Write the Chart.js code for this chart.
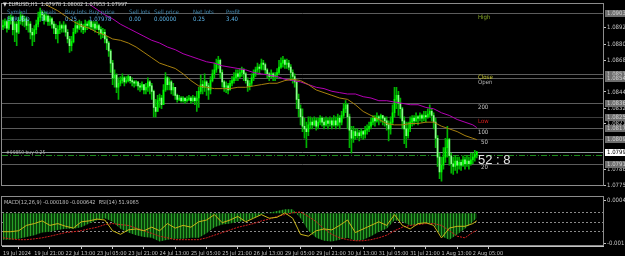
<!DOCTYPE html>
<html>
<head>
<meta charset="utf-8">
<title>EURUSD,H1</title>
<script src="https://cdn.jsdelivr.net/npm/chart.js@4.4.1/dist/chart.umd.min.js"></script>
<style>
  html, body { margin: 0; padding: 0; background: #000; }
  #cadre { position: relative; width: 625px; height: 256px; overflow: hidden; background: #000; }
  #prix { position: absolute; left: 0; top: 0; }
  #osc { position: absolute; left: 0; top: 190px; }
</style>
</head>
<body>
<div id="cadre">
  <canvas id="prix" width="625" height="190"></canvas>
  <canvas id="osc" width="625" height="66"></canvas>
</div>
<script>
/* Axe du temps : une étiquette toutes les 16 bougies H1 */
var timeLabels = ['19 Jul 2024', '19 Jul 21:00', '22 Jul 13:00', '23 Jul 05:00', '23 Jul 21:00', '24 Jul 13:00',
  '25 Jul 05:00', '25 Jul 21:00', '26 Jul 13:00', '29 Jul 05:00', '29 Jul 21:00', '30 Jul 13:00',
  '31 Jul 05:00', '31 Jul 21:00', '1 Aug 13:00', '2 Aug 05:00'];
var labelBars = [0, 16, 32, 48, 64, 80, 96, 112, 128, 144, 160, 176, 192, 208, 224, 240];
var totalSlots = 307; // bougies + marge à droite

/* Bougies (clôture, plus haut, plus bas) */
var firstOpen = 1.0893;
var closes = [
  1.0894,1.0897,1.0892,1.0898,1.0900,1.0891,1.0895,1.0889,1.0898,1.0901,
  1.0897,1.0899,1.0894,1.0895,1.0889,1.0887,1.0891,1.0895,1.0900,1.0904,
  1.0902,1.0898,1.0901,1.0897,1.0899,1.0895,1.0892,1.0888,1.0891,1.0894,
  1.0892,1.0894,1.0889,1.0884,1.0879,1.0882,1.0889,1.0894,1.0892,1.0895,
  1.0893,1.0891,1.0895,1.0894,1.0897,1.0893,1.0895,1.0892,1.0894,1.0891,
  1.0888,1.0889,1.0884,1.0881,1.0875,1.0866,1.0855,1.0857,1.0848,1.0851,
  1.0853,1.0855,1.0852,1.0853,1.0856,1.0853,1.0852,1.0851,1.0852,1.0849,
  1.0848,1.0850,1.0846,1.0848,1.0852,1.0849,1.0845,1.0833,1.0830,1.0838,
  1.0840,1.0835,1.0846,1.0855,1.0850,1.0852,1.0846,1.0848,1.0842,1.0839,
  1.0840,1.0838,1.0840,1.0838,1.0839,1.0840,1.0838,1.0840,1.0838,1.0840,
  1.0845,1.0850,1.0848,1.0852,1.0849,1.0846,1.0853,1.0858,1.0861,1.0865,
  1.0868,1.0859,1.0852,1.0848,1.0849,1.0846,1.0851,1.0853,1.0855,1.0858,
  1.0856,1.0859,1.0861,1.0858,1.0853,1.0849,1.0851,1.0855,1.0858,1.0861,
  1.0863,1.0862,1.0866,1.0865,1.0861,1.0858,1.0856,1.0858,1.0856,1.0857,
  1.0859,1.0863,1.0866,1.0868,1.0865,1.0866,1.0863,1.0859,1.0856,1.0852,
  1.0839,1.0832,1.0826,1.0819,1.0817,1.0815,1.0820,1.0822,1.0820,1.0823,
  1.0819,1.0822,1.0825,1.0822,1.0820,1.0823,1.0821,1.0823,1.0820,1.0823,
  1.0820,1.0825,1.0822,1.0827,1.0832,1.0835,1.0826,1.0816,1.0810,1.0815,
  1.0812,1.0814,1.0812,1.0815,1.0813,1.0816,1.0817,1.0819,1.0822,1.0825,
  1.0823,1.0826,1.0825,1.0827,1.0825,1.0823,1.0820,1.0817,1.0822,1.0829,
  1.0839,1.0842,1.0836,1.0832,1.0823,1.0817,1.0812,1.0817,1.0822,1.0825,
  1.0823,1.0826,1.0825,1.0827,1.0825,1.0827,1.0826,1.0828,1.0830,1.0827,
  1.0822,1.0810,1.0796,1.0785,1.0790,1.0796,1.0803,1.0809,1.0797,1.0791,
  1.0789,1.0793,1.0790,1.0792,1.0790,1.0794,1.0791,1.0793,1.0791,1.0794,
  1.0796,1.07978,1.07997
];
var highs = [
  1.0898,1.0899,1.0898,1.0901,1.0902,1.0901,1.0897,1.0897,1.0900,1.0904,
  1.0902,1.0901,1.0900,1.0898,1.0897,1.0892,1.0894,1.0898,1.0904,1.0907,
  1.0905,1.0904,1.0904,1.0902,1.0901,1.0900,1.0897,1.0895,1.0894,1.0897,
  1.0895,1.0897,1.0895,1.0891,1.0886,1.0886,1.0892,1.0897,1.0897,1.0898,
  1.0897,1.0895,1.0898,1.0897,1.0898,1.0897,1.0897,1.0897,1.0897,1.0895,
  1.0893,1.0892,1.0891,1.0886,1.0882,1.0876,1.0868,1.0861,1.0858,1.0855,
  1.0856,1.0858,1.0856,1.0856,1.0857,1.0856,1.0855,1.0853,1.0853,1.0852,
  1.0851,1.0852,1.0850,1.0851,1.0855,1.0853,1.0851,1.0846,1.0839,1.0842,
  1.0843,1.0842,1.0850,1.0859,1.0856,1.0855,1.0853,1.0851,1.0848,1.0843,
  1.0842,1.0841,1.0841,1.0840,1.0841,1.0842,1.0841,1.0842,1.0841,1.0845,
  1.0848,1.0857,1.0853,1.0858,1.0853,1.0851,1.0856,1.0861,1.0866,1.0869,
  1.0871,1.0869,1.0861,1.0853,1.0852,1.0851,1.0853,1.0856,1.0859,1.0861,
  1.0861,1.0862,1.0863,1.0862,1.0859,1.0855,1.0853,1.0858,1.0861,1.0863,
  1.0866,1.0865,1.0869,1.0868,1.0866,1.0862,1.0859,1.0861,1.0859,1.0859,
  1.0862,1.0868,1.0870,1.0871,1.0869,1.0869,1.0868,1.0865,1.0861,1.0858,
  1.0853,1.0843,1.0835,1.0832,1.0825,1.0822,1.0826,1.0826,1.0825,1.0826,
  1.0825,1.0825,1.0827,1.0826,1.0825,1.0826,1.0825,1.0826,1.0825,1.0827,
  1.0826,1.0828,1.0827,1.0830,1.0836,1.0838,1.0836,1.0828,1.0819,1.0819,
  1.0817,1.0817,1.0816,1.0817,1.0816,1.0819,1.0820,1.0822,1.0825,1.0827,
  1.0827,1.0829,1.0827,1.0828,1.0827,1.0826,1.0826,1.0823,1.0826,1.0835,
  1.0848,1.0848,1.0845,1.0840,1.0833,1.0826,1.0822,1.0822,1.0826,1.0827,
  1.0827,1.0829,1.0827,1.0829,1.0828,1.0830,1.0830,1.0832,1.0835,1.0832,
  1.0829,1.0825,1.0812,1.0799,1.0796,1.0803,1.0810,1.0819,1.0810,1.0799,
  1.0796,1.0797,1.0796,1.0796,1.0794,1.0797,1.0796,1.0797,1.0796,1.0799,
  1.0799,1.0801,1.08002
];
var lows = [
  1.0891,1.0892,1.0889,1.0891,1.0895,1.0887,1.0882,1.0879,1.0888,1.0895,
  1.0894,1.0893,1.0891,1.0889,1.0884,1.0879,1.0882,1.0888,1.0893,1.0897,
  1.0898,1.0895,1.0897,1.0894,1.0894,1.0892,1.0888,1.0884,1.0881,1.0888,
  1.0889,1.0889,1.0886,1.0881,1.0874,1.0875,1.0881,1.0888,1.0889,1.0891,
  1.0889,1.0888,1.0889,1.0891,1.0892,1.0891,1.0891,1.0889,1.0891,1.0887,
  1.0884,1.0885,1.0881,1.0876,1.0871,1.0859,1.0850,1.0848,1.0844,1.0839,
  1.0849,1.0851,1.0849,1.0851,1.0852,1.0851,1.0849,1.0848,1.0849,1.0846,
  1.0845,1.0846,1.0843,1.0843,1.0845,1.0843,1.0839,1.0826,1.0826,1.0832,
  1.0833,1.0832,1.0835,1.0845,1.0846,1.0846,1.0843,1.0842,1.0839,1.0837,
  1.0838,1.0837,1.0837,1.0836,1.0837,1.0838,1.0836,1.0837,1.0835,1.0830,
  1.0833,1.0843,1.0843,1.0845,1.0842,1.0839,1.0843,1.0852,1.0855,1.0859,
  1.0862,1.0855,1.0848,1.0845,1.0844,1.0843,1.0846,1.0849,1.0851,1.0853,
  1.0853,1.0855,1.0856,1.0853,1.0851,1.0845,1.0846,1.0849,1.0853,1.0856,
  1.0859,1.0858,1.0861,1.0861,1.0858,1.0855,1.0853,1.0855,1.0853,1.0853,
  1.0855,1.0858,1.0862,1.0863,1.0862,1.0862,1.0861,1.0853,1.0851,1.0848,
  1.0832,1.0826,1.0820,1.0815,1.0810,1.0803,1.0812,1.0817,1.0817,1.0819,
  1.0816,1.0817,1.0820,1.0819,1.0817,1.0819,1.0817,1.0819,1.0817,1.0819,
  1.0817,1.0819,1.0817,1.0820,1.0825,1.0829,1.0817,1.0803,1.0799,1.0807,
  1.0809,1.0810,1.0808,1.0810,1.0809,1.0810,1.0813,1.0815,1.0817,1.0820,
  1.0819,1.0822,1.0820,1.0822,1.0820,1.0819,1.0816,1.0808,1.0813,1.0820,
  1.0826,1.0832,1.0827,1.0825,1.0817,1.0806,1.0803,1.0810,1.0815,1.0819,
  1.0820,1.0822,1.0820,1.0823,1.0822,1.0823,1.0822,1.0825,1.0826,1.0823,
  1.0817,1.0803,1.0789,1.0780,1.0778,1.0787,1.0792,1.0796,1.0790,1.0784,
  1.0783,1.0786,1.0784,1.0787,1.0786,1.0789,1.0787,1.0789,1.0787,1.0790,
  1.0791,1.0793,1.07953
];

/* Moyennes mobiles, relevées toutes les 4 bougies */
var maBars = [16,20,24,28,32,36,40,44,48,52,56,60,64,68,72,76,80,84,88,92,96,100,104,108,112,116,120,124,128,132,
  136,140,144,148,152,156,160,164,168,172,176,180,184,188,192,196,200,204,208,212,216,220,224,228,232,236,240,242];
var maOlive = [1.0917,1.0911,1.0908,1.0905,1.0901,1.0897,1.0894,1.0892,1.0889,1.0887,
  1.0884,1.0883,1.0881,1.0878,1.0874,1.0870,1.0866,1.0864,1.0862,1.0858,
  1.0853,1.0849,1.0848,1.0847,1.0847,1.0847,1.0848,1.0848,1.0849,1.0850,
  1.0851,1.0851,1.0853,1.0854,1.0853,1.0850,1.0846,1.0844,1.0842,1.0840,
  1.0839,1.0835,1.0830,1.0827,1.0824,1.0821,1.0820,1.0820,1.0821,1.0821,
  1.0822,1.0822,1.0819,1.0817,1.0815,1.0812,1.0810,1.0809];
var maMagenta = [1.0929,1.0925,1.0923,1.0920,1.0917,1.0915,1.0912,1.0910,1.0906,1.0902,
  1.0899,1.0895,1.0892,1.0889,1.0886,1.0883,1.0881,1.0878,1.0876,1.0873,
  1.0871,1.0869,1.0867,1.0866,1.0864,1.0863,1.0862,1.0861,1.0859,1.0858,
  1.0857,1.0856,1.0854,1.0853,1.0852,1.0850,1.0848,1.0847,1.0845,1.0844,
  1.0843,1.0843,1.0841,1.0840,1.0838,1.0838,1.0837,1.0836,1.0835,1.0835,
  1.0833,1.0832,1.0829,1.0827,1.0824,1.0822,1.0820,1.0818];

/* Echelle des prix */
var priceTicks = [1.08925, 1.08800, 1.08680, 1.08445, 1.08320, 1.08210, 1.07865, 1.07750];

/* Niveaux horizontaux */
var levelNames = ['High', 'Close', 'Open', '200', 'Low', '100', '50', '20'];
var levelValues = [1.09033, 1.08578, 1.08549, 1.08362, 1.08257, 1.08175, 1.08096, 1.07910];
var levelTextColors = ['#86a828', '#c8c832', '#b4b4b4', '#c8c8c8', '#d21e1e', '#c8c8c8', '#c8c8c8', '#c8c8c8'];
var bidPrice = 1.07997;
var buyPrice = 1.07978;

/* Tableau des positions */
var tableHeads = ['Symbol', 'Deals', 'Buy lots', 'Buy price', 'Sell lots', 'Sell price', 'Net lots', 'Profit'];
var tableRow = ['EURUSD', '1', '0.25', '1.07978', '0.00', '0.00000', '0.25', '3.40'];

/* Oscillateurs, relevés toutes les 4 bougies */
var oscBars = [0,4,8,12,16,20,24,28,32,36,40,44,48,52,56,60,64,68,72,76,80,84,88,92,96,100,104,108,112,116,
  120,124,128,132,136,140,144,148,152,156,160,164,168,172,176,180,184,188,192,196,200,204,208,212,216,220,224,228,
  232,236,240,242];
var macdMain = [-0.00100,-0.00100,-0.00097,-0.00090,-0.00083,-0.00073,-0.00070,-0.00063,-0.00059,-0.00059,
  -0.00053,-0.00039,-0.00026,-0.00019,-0.00032,-0.00059,-0.00073,-0.00083,-0.00090,-0.00093,
  -0.00107,-0.00100,-0.00097,-0.00097,-0.00093,-0.00093,-0.00076,-0.00053,-0.00043,-0.00039,
  -0.00032,-0.00029,-0.00019,-0.00005,0.00002,0.00009,0.00015,0.00015,-0.00019,-0.00066,
  -0.00093,-0.00104,-0.00107,-0.00100,-0.00093,-0.00104,-0.00100,-0.00087,-0.00070,-0.00059,
  -0.00026,-0.00032,-0.00046,-0.00043,-0.00036,-0.00039,-0.00087,-0.00100,-0.00080,-0.00059,
  -0.00032,-0.000180];
var macdSignal = [-0.00093,-0.00097,-0.00100,-0.00100,-0.00097,-0.00093,-0.00087,-0.00080,-0.00073,-0.00070,
  -0.00066,-0.00059,-0.00053,-0.00043,-0.00039,-0.00043,-0.00046,-0.00056,-0.00066,-0.00076,
  -0.00087,-0.00093,-0.00100,-0.00100,-0.00100,-0.00100,-0.00093,-0.00083,-0.00073,-0.00063,
  -0.00053,-0.00046,-0.00039,-0.00029,-0.00022,-0.00012,-0.00005,0.00002,0.00005,-0.00012,
  -0.00032,-0.00059,-0.00080,-0.00093,-0.00100,-0.00104,-0.00104,-0.00100,-0.00093,-0.00083,
  -0.00066,-0.00053,-0.00046,-0.00043,-0.00039,-0.00039,-0.00046,-0.00066,-0.00087,-0.00093,
  -0.00072,-0.000642];
var rsiValues = [29.6,29.6,31.5,42.6,46.3,51.9,42.6,46.3,40.7,37.0,
  50.0,51.9,55.6,53.7,31.5,24.1,33.3,35.2,31.5,38.9,
  31.5,46.3,37.0,42.6,38.9,50.0,53.7,64.8,48.1,53.7,
  61.1,50.0,57.4,64.8,57.4,59.3,68.5,57.4,24.1,20.4,
  31.5,35.2,33.3,42.6,53.7,27.8,35.2,42.6,50.0,42.6,
  64.8,42.6,35.2,46.3,48.1,42.6,16.7,37.0,40.7,40.7,
  46.3,51.9065];
var rsiLevels = [70, 50, 30];
var macdTicks = [0.000494, -0.00114];

/* ---------- préparation ---------- */
var narrow = '"Liberation Sans Narrow", "DejaVu Sans Condensed", Arial, sans-serif';
Chart.defaults.font.family = narrow;
var axisGrey = '#c4c4c4';

var cats = [];
for (var i = 0; i < totalSlots; i++) {
  var k = labelBars.indexOf(i);
  cats.push(k >= 0 ? timeLabels[k] : '');
}

function spread(bars, vals) {
  var out = new Array(totalSlots).fill(null);
  bars.forEach(function (b, j) { out[b] = vals[j]; });
  return out;
}

var wicks = [], bodies = [], bodyColors = [];
for (var n = 0; n < closes.length; n++) {
  var o = n === 0 ? firstOpen : closes[n - 1];
  wicks.push([Math.min(lows[n], o, closes[n]), Math.max(highs[n], o, closes[n])]);
  bodies.push([o, closes[n]]);
  bodyColors.push(closes[n] >= o ? '#00ff00' : '#8cff8c');
}

function frame(chart) {
  var a = chart.chartArea, ctx = chart.ctx;
  ctx.save();
  ctx.strokeStyle = '#8c8c8c';
  ctx.lineWidth = 1;
  ctx.strokeRect(Math.floor(a.left) - 0.5, Math.floor(a.top) - 0.5, Math.round(a.right - a.left) + 1, Math.round(a.bottom - a.top) + 1);
  ctx.restore();
}

/* tracés propres au graphique principal */
var mainOverlay = {
  id: 'mainOverlay',
  beforeDatasetsDraw: function (chart) {
    var ctx = chart.ctx, a = chart.chartArea, y = chart.scales.y;
    ctx.save();
    ctx.lineWidth = 1;
    levelValues.forEach(function (v, k) {
      var py = Math.round(y.getPixelForValue(v)) + 0.5;
      ctx.strokeStyle = (levelNames[k] === 'Low' || levelNames[k] === '50') ? '#3c3c3c' : '#5c5c5c';
      ctx.beginPath(); ctx.moveTo(a.left, py); ctx.lineTo(a.right, py); ctx.stroke();
    });
    var pb = Math.round(y.getPixelForValue(bidPrice)) + 0.5;
    ctx.strokeStyle = '#8e949a';
    ctx.beginPath(); ctx.moveTo(a.left, pb); ctx.lineTo(a.right, pb); ctx.stroke();
    var pbuy = Math.round(y.getPixelForValue(buyPrice)) + 0.5;
    ctx.strokeStyle = '#1e8c1e';
    ctx.setLineDash([6, 2, 1, 2]);
    ctx.beginPath(); ctx.moveTo(a.left, pbuy); ctx.lineTo(a.right, pbuy); ctx.stroke();
    ctx.restore();
  },
  afterDraw: function (chart) {
    var ctx = chart.ctx, a = chart.chartArea, y = chart.scales.y;
    frame(chart);
    ctx.save();
    ctx.textBaseline = 'middle';
    ctx.font = '6px ' + narrow;
    // étiquettes des niveaux
    levelNames.forEach(function (name, k) {
      var py = y.getPixelForValue(levelValues[k]);
      ctx.fillStyle = levelTextColors[k];
      ctx.fillText(name, 478 + (name.length < 3 ? 3 : 0), py + (name === 'Close' ? 3 : 4));
    });
    // cases de prix sur l'axe
    levelValues.concat([bidPrice]).forEach(function (v, k) {
      var py = Math.round(y.getPixelForValue(v));
      var isBid = k === levelValues.length;
      ctx.fillStyle = isBid ? '#ffffff' : '#6e6e6e';
      ctx.fillRect(a.right + 2, py - 3, 21, 7);
      ctx.fillStyle = isBid ? '#000000' : '#d2d2d2';
      ctx.fillText(v.toFixed(5), a.right + 4, py + 0.5);
    });
    // ligne d'ordre
    ctx.fillStyle = '#b4b4b4';
    ctx.font = '5px ' + narrow;
    ctx.fillText('#99850 buy 0.25', a.left + 4, y.getPixelForValue(buyPrice) - 2);
    // compte à rebours
    ctx.fillStyle = '#e6e6e6';
    ctx.font = '13px "Liberation Sans", Arial, sans-serif';
    ctx.fillText('52 : 8', 478, y.getPixelForValue(bidPrice) + 8);
    // en-tête
    ctx.font = '5.5px ' + narrow;
    ctx.fillStyle = '#dcdcdc';
    ctx.fillText('\u25BC EURUSD,H1  1.07978 1.08002 1.07953 1.07997', 3, 5);
    var cols = [7, 41, 65, 89, 129, 154, 193, 226];
    ctx.font = '6px ' + narrow;
    tableHeads.forEach(function (t, k) { ctx.fillStyle = '#3f82a8'; ctx.fillText(t, cols[k], 12); });
    tableRow.forEach(function (t, k) { ctx.fillStyle = '#5ab2e6'; ctx.fillText(t, cols[k], 19); });
    ctx.restore();
  }
};

new Chart(document.getElementById('prix'), {
  type: 'bar',
  data: {
    labels: cats,
    datasets: [
      { type: 'line', data: spread(maBars, maOlive), borderColor: '#a8800e', borderWidth: 1, pointRadius: 0, spanGaps: true, order: 1 },
      { type: 'line', data: spread(maBars, maMagenta), borderColor: '#b400b4', borderWidth: 1, pointRadius: 0, spanGaps: true, order: 1 },
      { data: wicks, backgroundColor: '#00b400', barThickness: 1, grouped: false, order: 3 },
      { data: bodies, backgroundColor: bodyColors, barThickness: 1, grouped: false, order: 2 }
    ]
  },
  options: {
    responsive: false,
    animation: false,
    events: [],
    layout: { padding: { left: 2, top: 2, right: 0, bottom: 1 } },
    plugins: { legend: { display: false }, tooltip: { enabled: false } },
    scales: {
      x: { display: false },
      y: {
        position: 'right',
        min: 1.07749,
        max: 1.09096,
        afterFit: function (s) { s.width = 22; },
        afterBuildTicks: function (s) { s.ticks = priceTicks.map(function (v) { return { value: v }; }); },
        ticks: { color: axisGrey, font: { size: 6 }, padding: 1, callback: function (v) { return v.toFixed(5); } },
        grid: { drawOnChartArea: false, tickLength: 3, color: axisGrey },
        border: { color: axisGrey }
      }
    }
  },
  plugins: [mainOverlay]
});

/* fenêtre MACD + RSI */
var motif = document.createElement('canvas');
motif.width = 3; motif.height = 1;
var mctx = motif.getContext('2d');
mctx.fillStyle = '#0a420a'; mctx.fillRect(0, 0, 3, 1);
mctx.fillStyle = '#28a028'; mctx.fillRect(0, 0, 1, 1);
var histoFill = mctx.createPattern(motif, 'repeat');

var oscOverlay = {
  id: 'oscOverlay',
  beforeDatasetsDraw: function (chart) {
    var ctx = chart.ctx, a = chart.chartArea, r = chart.scales.rsi;
    ctx.save();
    ctx.strokeStyle = '#8a8a8a';
    ctx.lineWidth = 1;
    ctx.setLineDash([2, 2]);
    rsiLevels.forEach(function (v) {
      var py = Math.round(r.getPixelForValue(v)) + 0.5;
      ctx.beginPath(); ctx.moveTo(a.left, py); ctx.lineTo(a.right, py); ctx.stroke();
    });
    ctx.restore();
  },
  afterDraw: function (chart) {
    var ctx = chart.ctx, a = chart.chartArea;
    frame(chart);
    ctx.save();
    ctx.font = '5.5px ' + narrow;
    ctx.textBaseline = 'middle';
    ctx.fillStyle = '#c0c0c0';
    ctx.fillText('MACD(12,26,9) -0.000180 -0.000642  RSI(14) 51.9065', a.left + 2, a.top + 5);
    ctx.restore();
  }
};

new Chart(document.getElementById('osc'), {
  type: 'bar',
  data: {
    labels: cats,
    datasets: [
      { type: 'line', yAxisID: 'rsi', data: spread(oscBars, rsiValues), borderColor: '#c8b418', borderWidth: 1, pointRadius: 0, spanGaps: true, order: 1 },
      { type: 'line', yAxisID: 'macd', data: spread(oscBars, macdSignal), borderColor: '#d21e1e', borderWidth: 1, borderDash: [2, 1], pointRadius: 0, spanGaps: true, order: 2 },
      { type: 'line', yAxisID: 'macd', data: spread(oscBars, macdMain), borderColor: 'rgba(0,0,0,0)', borderWidth: 0, backgroundColor: histoFill, fill: 'origin', pointRadius: 0, spanGaps: true, order: 3 }
    ]
  },
  options: {
    responsive: false,
    animation: false,
    events: [],
    layout: { padding: { left: 2, top: 1, right: 0, bottom: 0 } },
    plugins: { legend: { display: false }, tooltip: { enabled: false } },
    scales: {
      x: {
        position: 'bottom',
        afterBuildTicks: function (s) { s.ticks = s.ticks.filter(function (t) { return cats[t.value] !== ''; }); },
        afterFit: function (s) { s.height = 10; },
        ticks: { autoSkip: false, maxRotation: 0, align: 'start', padding: 1, color: axisGrey, font: { size: 5.5 } },
        grid: { drawOnChartArea: false, tickLength: 3, color: axisGrey },
        border: { color: axisGrey }
      },
      rsi: {
        position: 'right',
        weight: 0,
        min: 0,
        max: 100,
        afterFit: function (s) { s.width = 0; },
        afterBuildTicks: function (s) { s.ticks = rsiLevels.map(function (v) { return { value: v }; }); },
        ticks: { color: axisGrey, font: { size: 6 }, padding: 4 },
        grid: { display: false, drawTicks: false },
        border: { display: false }
      },
      macd: {
        position: 'right',
        weight: 1,
        min: -0.00124,
        max: 0.000594,
        afterFit: function (s) { s.width = 22; },
        afterBuildTicks: function (s) { s.ticks = macdTicks.map(function (v) { return { value: v }; }); },
        ticks: { color: axisGrey, font: { size: 6 }, padding: 1, callback: function (v) { return String(v); } },
        grid: { drawOnChartArea: false, tickLength: 3, color: axisGrey },
        border: { color: axisGrey }
      }
    }
  },
  plugins: [oscOverlay]
});
</script>
</body>
</html>
